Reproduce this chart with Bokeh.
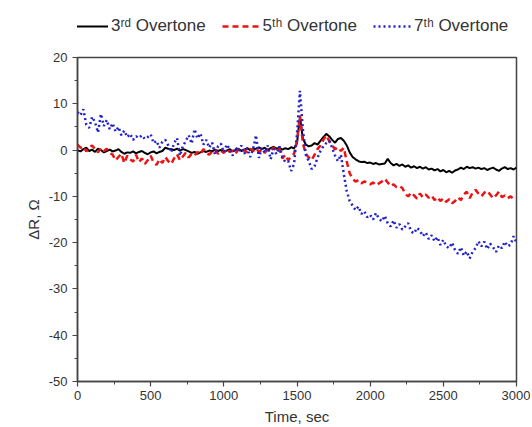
from bokeh.plotting import figure
from bokeh.layouts import column
from bokeh.models import Legend, LegendItem, FixedTicker, Range1d
from bokeh.embed import file_html
from bokeh.resources import INLINE

# time step of the readings (s)
step = 20

third = [
    0.0, -0.3, 0.2, 0.5, -0.2, 0.1, -0.4, 0.3, 0.0, -0.5,
    -0.2, 0.1, -0.3, -0.1, 0.2, -0.4, -0.8, -0.5, -0.6, -0.3,
    -0.7, -0.4, -0.2, -0.6, -0.9, -0.5, -0.3, -0.7, -0.4, -0.2,
    0.5, 0.3, 0.2, 0.0, 0.3, -0.1, 0.2, 0.0, -0.3, -0.6,
    -0.4, -0.8, -0.5, -0.2, -0.4, -0.1, -0.3, 0.1, -0.2, 0.0,
    -0.4, -0.1, 0.2, -0.3, 0.0, 0.3, -0.2, 0.1, 0.4, 0.0,
    0.2, 0.3, 0.6, 0.2, 0.5, 0.0, 0.4, 0.7, 0.3, 0.5,
    0.1, 0.4, 0.2, 0.6, 0.4, 1.5, 7.2, 2.5, 1.2, 0.8,
    1.0, 1.5, 1.2, 2.0, 2.8, 3.5, 3.0, 2.2, 1.6, 2.4,
    2.6, 2.0, 1.0, -0.5, -1.5, -2.0, -2.4, -2.6, -2.5, -2.8,
    -2.7, -3.0, -2.8, -3.1, -3.0, -2.9, -1.9, -2.8, -3.3, -3.0,
    -3.4, -3.1, -3.6, -3.3, -3.8, -3.5, -3.9, -3.6, -4.0, -3.7,
    -4.2, -4.0, -4.4, -4.1, -4.6, -4.3, -4.8, -4.5, -4.9, -4.4,
    -4.2, -3.8, -4.1, -3.6, -3.9, -3.7, -4.0, -3.8, -4.1, -3.9,
    -4.3, -4.0, -3.8, -4.2, -4.5, -4.0, -3.7, -4.1, -3.9, -4.2,
    -3.8,
]

fifth = [
    1.2, 0.5, 0.8, -0.3, 0.6, 1.0, 0.2, -0.5, 0.4, -0.2,
    0.3, -0.6, -1.0, -2.2, -1.5, -0.8, -2.8, -1.2, -2.0, -2.5,
    -1.0, -2.6, -1.8, -3.0, -2.2, -1.2, -2.7, -3.2, -2.0, -2.8,
    -1.5, -2.4, -3.0, -1.8, -0.9, -2.2, -1.4, -0.6, -1.6, -0.8,
    -1.2, -0.4, -0.9, 0.2, -0.6, -1.0, -0.3, 0.1, -0.8, -0.2,
    -0.6, 0.3, -0.4, -0.1, -0.8, 0.2, -0.3, 0.0, -0.5, 0.3,
    -0.2, 0.4, -0.4, 0.1, -0.6, 0.2, -0.1, 0.5, -0.3, 0.3,
    -1.8, -1.0, -2.2, -1.4, -0.8, 2.0, 7.5, 1.5, -0.8, -1.6,
    -2.2, -1.0, 0.2, 1.0, 2.2, 3.2, 2.0, 1.0, 0.2, 0.6,
    -0.2, 0.5, -2.5, -5.0, -6.2, -6.8, -6.5, -7.2, -6.8, -7.0,
    -7.4, -7.0, -7.6, -7.2, -6.8, -6.2, -7.0, -7.8, -7.4, -8.0,
    -7.8, -8.2, -9.5, -10.0, -9.2, -9.8, -10.5, -9.4, -10.2, -9.6,
    -10.3, -9.8, -10.8, -10.2, -11.0, -10.4, -11.2, -10.6, -11.5, -11.0,
    -10.2, -10.8, -9.6, -9.0, -10.4, -9.2, -8.6, -9.4, -10.0, -9.2,
    -8.8, -9.6, -10.4, -9.8, -9.0, -10.2, -9.8, -10.4, -10.0, -10.6,
    -10.5,
]

seventh = [
    8.2, 7.5, 8.8, 5.5, 4.8, 7.2, 6.0, 3.8, 7.8, 5.2,
    6.5, 4.5, 5.8, 4.0, 5.0, 3.2, 4.2, 2.8, 3.5, 2.2,
    3.0, 2.6, 3.2, 2.4, 2.8, 3.4, 1.5, 2.0, 0.5, 1.8,
    2.2, 1.0, -0.5, 1.5, 2.6, -1.2, 0.8, 2.0, 3.2, 1.4,
    4.5, 2.5, 3.6, 1.2, 2.2, 0.5, 1.6, -1.0, 0.8, 1.4,
    -0.5, 1.2, 0.2, -1.2, 0.6, -0.3, 1.0, -0.8, 0.4, -1.5,
    0.2, 3.2, -1.7, 0.5, -0.6, 1.0, -2.0, 0.3, -0.9, 0.8,
    -1.5, -2.6, -2.4, -4.5, -3.0, 3.5, 12.8, 4.5, -1.0, -2.4,
    -4.1, -3.5, -1.7, -0.2, 0.8, 1.5, 2.0, 0.5, -1.2, -2.4,
    -1.0, -5.2, -8.9, -11.0, -12.0, -13.0, -12.2, -13.8, -13.2, -14.5,
    -14.0, -15.0, -13.6, -14.8, -15.4, -14.2, -15.8, -16.5, -15.2, -16.8,
    -16.0, -17.2, -16.5, -15.8, -17.6, -18.0, -16.8, -17.4, -18.6, -17.8,
    -19.2, -18.4, -19.7, -18.8, -20.5, -19.4, -20.8, -21.2, -20.0, -21.6,
    -22.4, -21.0, -22.8, -21.9, -23.4, -22.0, -21.2, -19.7, -20.8, -19.8,
    -21.4, -20.2, -21.0, -22.0, -20.6, -21.2, -19.8, -20.8, -20.4, -18.6,
    -20.0,
]

t3 = [step * i for i in range(len(third))]
t5 = [step * i for i in range(len(fifth))]
t7 = [step * i for i in range(len(seventh))]

labels = ["3\u02b3\u1d48 Overtone", "5\u1d57\u02b0 Overtone", "7\u1d57\u02b0 Overtone"]
x_ticks = [0, 500, 1000, 1500, 2000, 2500, 3000]
y_ticks = [-50, -40, -30, -20, -10, 0, 10, 20]
y_tick_labels = ["-50", "-40", "-30", "-20", "-10", "0", "10", "20"]

FONT = "Liberation Sans"
TXT = "#333333"
AX = "#444444"

styles = [dict(line_color="black", line_width=2),
          dict(line_color="#ee1111", line_width=2.5, line_dash="6 4"),
          dict(line_color="#2222cc", line_width=2.5, line_dash="2 3")]
series = [(t3, third), (t5, fifth), (t7, seventh)]

p = figure(frame_width=439, frame_height=324, output_backend="svg", toolbar_location=None,
           x_range=Range1d(0, 3000), y_range=Range1d(-50, 20),
           min_border_left=77, min_border_right=14, min_border_top=19,
           min_border_bottom=0)

for (tx, ty), s in zip(series, styles):
    p.line(tx, ty, **s)

p.grid.visible = False
p.outline_line_color = AX
p.outline_line_width = 1.5

p.xaxis.ticker = FixedTicker(ticks=x_ticks, minor_ticks=[250, 750, 1250, 1750, 2250, 2750])
p.yaxis.ticker = FixedTicker(ticks=y_ticks, minor_ticks=[-45, -35, -25, -15, -5, 5, 15])
p.yaxis.major_label_overrides = {v: s for v, s in zip(y_ticks, y_tick_labels)}
p.xaxis.axis_label = "Time, sec"
p.yaxis.axis_label = "\u0394R, \u03a9"

for ax in (p.xaxis[0], p.yaxis[0]):
    ax.axis_line_color = AX
    ax.axis_line_width = 1.5
    ax.major_tick_line_color = AX
    ax.minor_tick_line_color = AX
    ax.major_tick_line_width = 1.2
    ax.major_tick_in = 0
    ax.major_tick_out = 5
    ax.minor_tick_in = 0
    ax.minor_tick_out = 3
    ax.major_label_text_font = FONT
    ax.major_label_text_font_size = "13px"
    ax.major_label_text_color = TXT
    ax.major_label_standoff = 5
    ax.axis_label_text_font = FONT
    ax.axis_label_text_font_size = "15px"
    ax.axis_label_text_font_style = "normal"
    ax.axis_label_text_color = TXT

p.xaxis[0].major_label_standoff = 4
p.yaxis[0].axis_label_standoff = 4
p.xaxis[0].axis_label_standoff = 5

# legend strip above the plot; its keys are the same series, kept out of view
lf = figure(width=530, height=38, output_backend="svg", toolbar_location=None,
            x_range=Range1d(-2, -1), y_range=Range1d(-2, -1),
            x_axis_location=None, y_axis_location=None,
            min_border=0, min_border_left=0, min_border_right=0,
            min_border_top=0, min_border_bottom=0)
lf.grid.visible = False
lf.outline_line_color = None
keys = [lf.line(tx, ty, **s) for (tx, ty), s in zip(series, styles)]

legend = Legend(items=[LegendItem(label=labels[i], renderers=[keys[i]]) for i in range(3)],
                orientation="horizontal", location=(-7, 2),
                border_line_color=None, background_fill_alpha=0,
                glyph_width=38, glyph_height=16, label_standoff=3, spacing=16,
                label_text_font=FONT, label_text_font_size="17px",
                label_text_color=TXT, padding=0, margin=0)
lf.add_layout(legend, "center")

layout = column(lf, p, spacing=0)
open("out.html", "w").write(file_html(layout, INLINE))
